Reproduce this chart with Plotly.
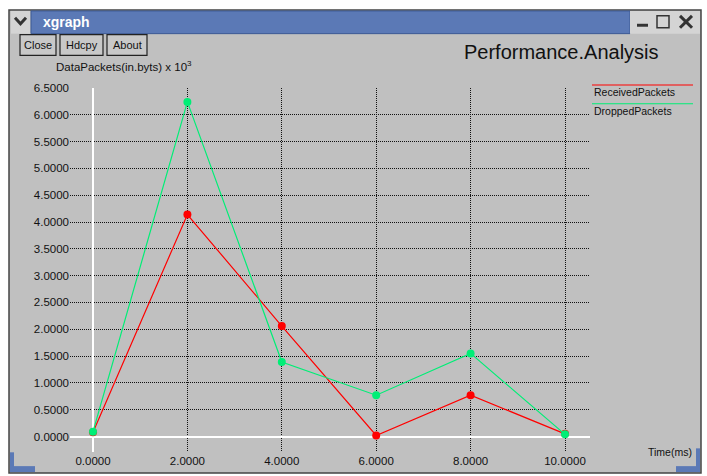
import plotly.graph_objects as go

W, H = 707, 476

time_ms = [0, 2, 4, 6, 8, 10]
received = [0.08, 4.14, 2.06, 0.02, 0.77, 0.05]
dropped = [0.09, 6.24, 1.39, 0.77, 1.55, 0.04]
series_names = ["ReceivedPackets", "DroppedPackets"]
series_colors = ["#ff0000", "#00ee76"]
x_ticks = [0, 2, 4, 6, 8, 10]
y_ticks = [i * 0.5 for i in range(14)]


def px(x):
    return x / W


def py(y):
    return 1 - y / H


fig = go.Figure()
for name, vals, col in zip(series_names, [received, dropped], series_colors):
    fig.add_trace(go.Scatter(
        x=time_ms, y=vals, mode="lines+markers", name=name,
        line=dict(color=col, width=1.2),
        marker=dict(color=col, size=8, symbol="circle"),
    ))

FONT = "Liberation Sans, Arial, sans-serif"
shapes = []
# outer window frame
shapes.append(dict(type="rect", xref="paper", yref="paper",
                   x0=px(9), x1=px(701), y0=py(473), y1=py(4),
                   fillcolor="#c0c0c0", line=dict(color="#444444", width=1.5), layer="below"))
# title bar
shapes.append(dict(type="rect", xref="paper", yref="paper",
                   x0=px(31), x1=px(630), y0=py(28), y1=py(5),
                   fillcolor="#5b79b6", line=dict(color="#3d5a94", width=1), layer="below"))
# title-bar left menu button
shapes.append(dict(type="rect", xref="paper", yref="paper",
                   x0=px(11), x1=px(30), y0=py(28), y1=py(5),
                   fillcolor="#d4d4d4", line=dict(width=0), layer="below"))
# right title-bar buttons area
shapes.append(dict(type="rect", xref="paper", yref="paper",
                   x0=px(630), x1=px(700), y0=py(28), y1=py(5),
                   fillcolor="#d4d4d4", line=dict(width=0), layer="below"))
# minimize glyph
shapes.append(dict(type="rect", xref="paper", yref="paper",
                   x0=px(637), x1=px(648), y0=py(21), y1=py(18),
                   fillcolor="#333333", line=dict(width=0)))
# maximize glyph
shapes.append(dict(type="rect", xref="paper", yref="paper",
                   x0=px(657), x1=px(669), y0=py(22), y1=py(10),
                   fillcolor="rgba(0,0,0,0)", line=dict(color="#333333", width=1.5)))
# close glyph
shapes.append(dict(type="line", xref="paper", yref="paper",
                   x0=px(680), x1=px(692), y0=py(10), y1=py(22),
                   line=dict(color="#333333", width=3)))
shapes.append(dict(type="line", xref="paper", yref="paper",
                   x0=px(680), x1=px(692), y0=py(22), y1=py(10),
                   line=dict(color="#333333", width=3)))
# chevron glyph
shapes.append(dict(type="path", xref="paper", yref="paper",
                   path=f"M {px(15)},{py(12)} L {px(20.5)},{py(18)} L {px(26)},{py(12)}",
                   line=dict(color="#333333", width=3)))
# bottom corner handles
shapes.append(dict(type="rect", xref="paper", yref="paper",
                   x0=px(10), x1=px(35), y0=py(472), y1=py(466),
                   fillcolor="#5b79b6", line=dict(width=0)))
shapes.append(dict(type="rect", xref="paper", yref="paper",
                   x0=px(10), x1=px(14), y0=py(472), y1=py(452),
                   fillcolor="#5b79b6", line=dict(width=0)))
shapes.append(dict(type="rect", xref="paper", yref="paper",
                   x0=px(676), x1=px(700), y0=py(472), y1=py(466),
                   fillcolor="#5b79b6", line=dict(width=0)))
shapes.append(dict(type="rect", xref="paper", yref="paper",
                   x0=px(696), x1=px(700), y0=py(472), y1=py(448),
                   fillcolor="#5b79b6", line=dict(width=0)))
# buttons
buttons = [("Close", 20, 56), ("Hdcpy", 60, 103), ("About", 107, 147)]
annotations = []
for label, x0, x1 in buttons:
    shapes.append(dict(type="rect", xref="paper", yref="paper",
                       x0=px(x0), x1=px(x1), y0=py(50), y1=py(29),
                       fillcolor="#c8c8c8", line=dict(color="#222222", width=1.2)))
    annotations.append(dict(text=label, xref="paper", yref="paper",
                            x=px((x0 + x1) / 2), y=py(39.5), showarrow=False,
                            font=dict(family=FONT, size=11, color="#111111"),
                            xanchor="center", yanchor="middle"))

# legend lines and text
legend_y = [80, 99]
for name, col, ly in zip(series_names, series_colors, legend_y):
    shapes.append(dict(type="line", xref="paper", yref="paper",
                       x0=px(592), x1=px(693), y0=py(ly), y1=py(ly),
                       line=dict(color=col, width=1.2)))
    annotations.append(dict(text=name, xref="paper", yref="paper",
                            x=px(592), y=py(ly + 7), showarrow=False,
                            font=dict(family=FONT, size=10.5, color="#111111"),
                            xanchor="left", yanchor="middle"))

annotations += [
    dict(text="xgraph", xref="paper", yref="paper", x=px(41), y=py(16.5),
         showarrow=False, xanchor="left", yanchor="middle",
         font=dict(family=FONT, size=14, color="white", weight="bold")),
    dict(text="Performance.Analysis", xref="paper", yref="paper", x=px(561), y=py(47),
         showarrow=False, xanchor="center", yanchor="middle",
         font=dict(family=FONT, size=20, color="#111111")),
    dict(text="DataPackets(in.byts) x 10<sup>3</sup>", xref="paper", yref="paper",
         x=px(54), y=py(61), showarrow=False, xanchor="left", yanchor="middle",
         font=dict(family=FONT, size=11.5, color="#111111")),
    dict(text="Time(ms)", xref="paper", yref="paper", x=px(694), y=py(452),
         showarrow=False, xanchor="right", yanchor="middle",
         font=dict(family=FONT, size=10.5, color="#111111")),
]

# axis geometry: x=0 at px 93, x=10 at px 565; y=0 at py 436, y=6.5 at py 83
xs = (565 - 93) / 10
ys = (436 - 83) / 6.5
x_lo = (70 - 93) / xs
x_hi = (590 - 93) / xs
y_lo = -(452 - 436) / ys

fig.update_layout(
    width=W, height=H,
    margin=dict(l=0, r=0, t=0, b=0),
    paper_bgcolor="white",
    plot_bgcolor="rgba(0,0,0,0)",
    showlegend=False,
    shapes=shapes,
    annotations=annotations,
    xaxis=dict(domain=[px(70), px(590)], range=[x_lo, x_hi],
               tickvals=x_ticks, tickformat=".4f",
               showgrid=True, gridcolor="#111111", griddash="1px,1px", gridwidth=1,
               zeroline=True, zerolinecolor="white", zerolinewidth=2,
               showline=False, ticks="",
               tickfont=dict(family=FONT, size=11.5, color="#111111")),
    yaxis=dict(domain=[py(452), py(83)], range=[y_lo, 6.5],
               tickvals=y_ticks, tickformat=".4f",
               showgrid=True, gridcolor="#111111", griddash="1px,1px", gridwidth=1,
               zeroline=True, zerolinecolor="white", zerolinewidth=2,
               showline=False, ticks="",
               tickfont=dict(family=FONT, size=11.5, color="#111111")),
)

fig.write_html("out.html", config={"displayModeBar": False},
               post_script="document.body.style.margin='0';document.body.style.padding='0';")
